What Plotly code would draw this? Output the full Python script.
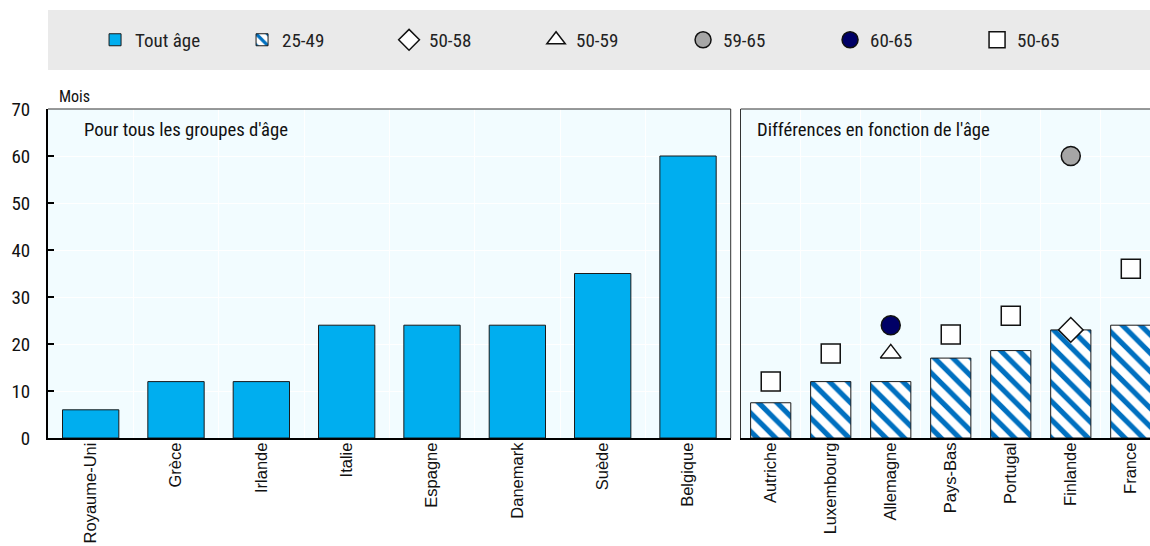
import plotly.graph_objects as go

# ---- data ----
left_countries = ["Royaume-Uni", "Grèce", "Irlande", "Italie", "Espagne", "Danemark", "Suède", "Belgique"]
left_all_ages = [6, 12, 12, 24, 24, 24, 35, 60]

right_countries = ["Autriche", "Luxembourg", "Allemagne", "Pays-Bas", "Portugal", "Finlande", "France"]
right_25_49 = [7.5, 12, 12, 17, 18.6, 23, 24]
right_50_58 = [None, None, None, None, None, 23, None]
right_50_59 = [None, None, 18, None, None, None, None]
right_59_65 = [None, None, None, None, None, 60, None]
right_60_65 = [None, None, 24, None, None, None, None]
right_50_65 = [12, 18, None, 22, 26, None, 36]

y_ticks = [0, 10, 20, 30, 40, 50, 60, 70]

# ---- style ----
NARROW = "Liberation Sans Narrow, Arial Narrow, Roboto Condensed, sans-serif"
REG = "Liberation Sans, Arial, sans-serif"
BG = "#F2FCFF"
BLUE = "#00AEEF"
HATCH = "#0070C0"

fig = go.Figure()

fig.add_trace(go.Bar(
    x=left_countries, y=left_all_ages, name="Tout âge",
    marker=dict(color=BLUE, line=dict(color="#1a1a1a", width=1)),
    width=0.66, xaxis="x", yaxis="y"))

fig.add_trace(go.Bar(
    x=right_countries, y=right_25_49, name="25-49",
    marker=dict(color="white", line=dict(color="#1a1a1a", width=1),
                pattern=dict(shape="\\", fgcolor=HATCH, bgcolor="white", fgopacity=1,
                             size=13, solidity=0.4)),
    width=0.67, xaxis="x2", yaxis="y2"))

def pts(name, vals, symbol, fill, size):
    fig.add_trace(go.Scatter(
        x=right_countries, y=vals, name=name, mode="markers",
        marker=dict(symbol=symbol, color=fill, size=size,
                    line=dict(color="#111", width=1.5)),
        xaxis="x2", yaxis="y2"))

pts("50-58", right_50_58, "diamond", "white", 19)
pts("50-59", right_50_59, "triangle-up", "white", 18)
pts("59-65", right_59_65, "circle", "#A6A6A6", 19)
pts("60-65", right_60_65, "circle", "#000066", 19)
pts("50-65", right_50_65, "square", "white", 19)

axis_common = dict(showgrid=True, gridcolor="white", gridwidth=1, tickson="boundaries",
                   ticks="", tickangle=-90, tickfont=dict(family=REG, size=16.5, color="#111"),
                   ticklabelstandoff=-4,
                   showline=True, linecolor="#000", linewidth=2, zeroline=False, fixedrange=True)

fig.update_layout(
    width=1150, height=546,
    margin=dict(l=48, r=0, t=109, b=108),
    paper_bgcolor="white", plot_bgcolor=BG,
    barmode="overlay",
    showlegend=True,
    legend=dict(orientation="h", x=0.0427, xanchor="left", y=1.21, yanchor="middle",
                bgcolor="rgba(0,0,0,0)", font=dict(family=NARROW, size=19, color="#222"),
                entrywidth=102, itemsizing="trace", traceorder="normal"),
    xaxis=dict(domain=[0, 0.6195], range=[-0.5, 7.5], anchor="y", **axis_common),
    xaxis2=dict(domain=[0.6286, 1], range=[-0.5, 6.32], anchor="y2", **axis_common),
    yaxis=dict(domain=[0, 1], range=[0, 70], tickvals=y_ticks, showgrid=True, gridcolor="white",
               ticks="inside", ticklen=6, tickwidth=1.5, tickcolor="#000",
               showline=True, linecolor="#000", linewidth=2, zeroline=False, anchor="x",
               tickfont=dict(family=NARROW, size=19, color="#111"), ticklabelstandoff=12),
    yaxis2=dict(domain=[0, 1], range=[0, 70], tickvals=y_ticks, showgrid=True, gridcolor="white",
                showticklabels=False, ticks="", showline=True, linecolor="#333", linewidth=1,
                zeroline=False, anchor="x2"),
)

# legend background band
fig.add_shape(type="rect", xref="paper", yref="paper", x0=0, x1=1, y0=1.1185, y1=1.3009,
              fillcolor="#EAEAEA", line=dict(width=0), layer="below")
# thin top/right frames
for xr, yr, right in (("x domain", "y domain", True), ("x2 domain", "y2 domain", False)):
    fig.add_shape(type="line", xref=xr, yref=yr, x0=0, x1=1, y0=1, y1=1,
                  line=dict(color="#333", width=1))
    if right:
        fig.add_shape(type="line", xref=xr, yref=yr, x0=1, x1=1, y0=0, y1=1,
                      line=dict(color="#333", width=1))

fig.add_annotation(text="Mois", xref="paper", yref="paper", x=0.008, y=1.0395,
                   xanchor="left", yanchor="middle", showarrow=False,
                   font=dict(family=NARROW, size=16, color="#111"))
fig.add_annotation(text="Pour tous les groupes d'âge", xref="x domain", yref="y domain",
                   x=0.05, y=0.935, xanchor="left", yanchor="middle", showarrow=False,
                   font=dict(family=NARROW, size=18.7, color="#111"))
fig.add_annotation(text="Différences en fonction de l'âge", xref="x2 domain", yref="y2 domain",
                   x=0.035, y=0.935, xanchor="left", yanchor="middle", showarrow=False,
                   font=dict(family=NARROW, size=18.7, color="#111"))

fig.write_html("out.html", config={"displayModeBar": False},
               post_script="document.body.style.margin='0';document.body.style.overflow='hidden';")
